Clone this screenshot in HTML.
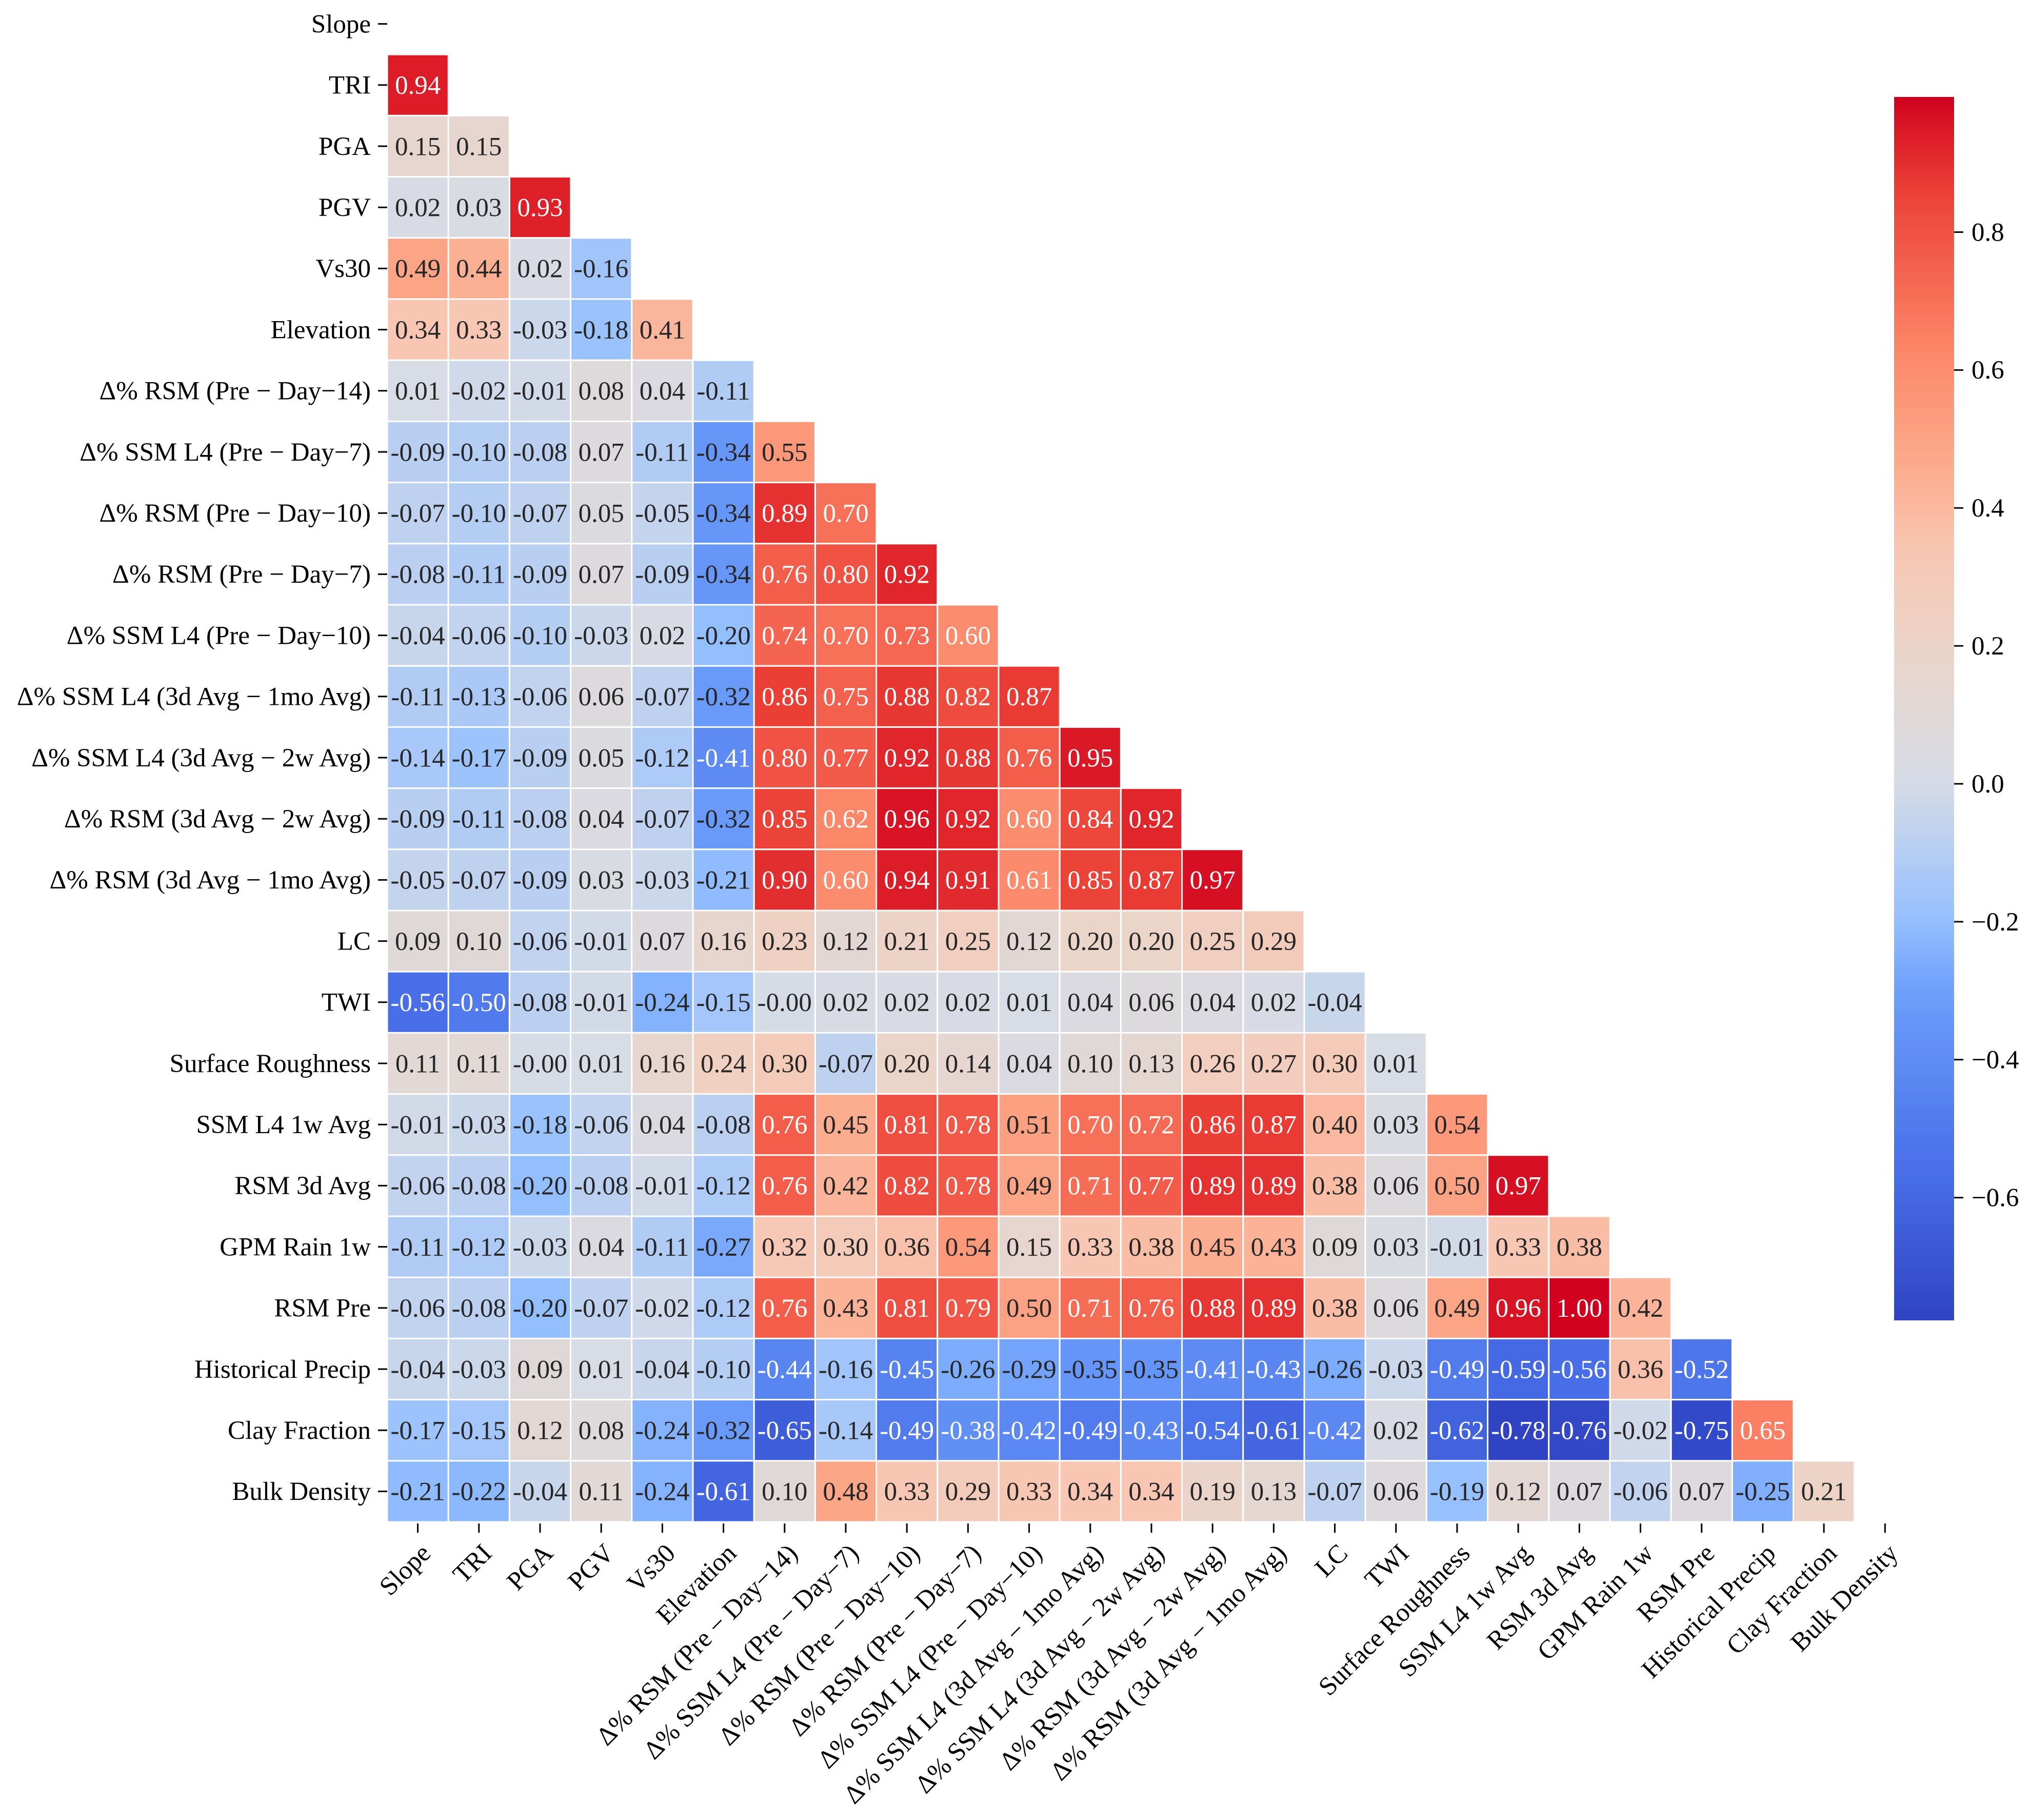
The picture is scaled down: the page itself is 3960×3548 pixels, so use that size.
<!DOCTYPE html>
<html><head><meta charset="utf-8"><style>
html,body{margin:0;padding:0;background:#fff;}
svg{display:block;font-family:"Liberation Serif","DejaVu Serif",serif;}
</style></head><body>
<svg id="chart" xmlns="http://www.w3.org/2000/svg" width="3960" height="3548" viewBox="0 0 3960 3548">
<rect x="0" y="0" width="3960" height="3548" fill="#fff"/>
<defs><linearGradient id="cbgrad" x1="0" y1="1" x2="0" y2="0"></linearGradient></defs>
<g id="cells"></g>
<g id="yaxis"></g>
<g id="xaxis"></g>
<g id="cbar"></g>
</svg>
<script>
const labels = ["Slope","TRI","PGA","PGV","Vs30","Elevation","Δ% RSM (Pre − Day−14)","Δ% SSM L4 (Pre − Day−7)","Δ% RSM (Pre − Day−10)","Δ% RSM (Pre − Day−7)","Δ% SSM L4 (Pre − Day−10)","Δ% SSM L4 (3d Avg − 1mo Avg)","Δ% SSM L4 (3d Avg − 2w Avg)","Δ% RSM (3d Avg − 2w Avg)","Δ% RSM (3d Avg − 1mo Avg)","LC","TWI","Surface Roughness","SSM L4 1w Avg","RSM 3d Avg","GPM Rain 1w","RSM Pre","Historical Precip","Clay Fraction","Bulk Density"];
const rowTRI = [0.94];
const rowPGA = [0.15,0.15];
const rowPGV = [0.02,0.03,0.93];
const rowVs30 = [0.49,0.44,0.02,-0.16];
const rowElev = [0.34,0.33,-0.03,-0.18,0.41];
const rowRSM14 = [0.01,-0.02,-0.01,0.08,0.04,-0.11];
const rowSSM7 = [-0.09,-0.10,-0.08,0.07,-0.11,-0.34,0.55];
const rowRSM10 = [-0.07,-0.10,-0.07,0.05,-0.05,-0.34,0.89,0.70];
const rowRSM7 = [-0.08,-0.11,-0.09,0.07,-0.09,-0.34,0.76,0.80,0.92];
const rowSSM10 = [-0.04,-0.06,-0.10,-0.03,0.02,-0.20,0.74,0.70,0.73,0.60];
const rowSSM3d1mo = [-0.11,-0.13,-0.06,0.06,-0.07,-0.32,0.86,0.75,0.88,0.82,0.87];
const rowSSM3d2w = [-0.14,-0.17,-0.09,0.05,-0.12,-0.41,0.80,0.77,0.92,0.88,0.76,0.95];
const rowRSM3d2w = [-0.09,-0.11,-0.08,0.04,-0.07,-0.32,0.85,0.62,0.96,0.92,0.60,0.84,0.92];
const rowRSM3d1mo = [-0.05,-0.07,-0.09,0.03,-0.03,-0.21,0.90,0.60,0.94,0.91,0.61,0.85,0.87,0.97];
const rowLC = [0.09,0.10,-0.06,-0.01,0.07,0.16,0.23,0.12,0.21,0.25,0.12,0.20,0.20,0.25,0.29];
const rowTWI = [-0.56,-0.50,-0.08,-0.01,-0.24,-0.15,-0.00,0.02,0.02,0.02,0.01,0.04,0.06,0.04,0.02,-0.04];
const rowSR = [0.11,0.11,-0.00,0.01,0.16,0.24,0.30,-0.07,0.20,0.14,0.04,0.10,0.13,0.26,0.27,0.30,0.01];
const rowSSM1w = [-0.01,-0.03,-0.18,-0.06,0.04,-0.08,0.76,0.45,0.81,0.78,0.51,0.70,0.72,0.86,0.87,0.40,0.03,0.54];
const rowRSM3d = [-0.06,-0.08,-0.20,-0.08,-0.01,-0.12,0.76,0.42,0.82,0.78,0.49,0.71,0.77,0.89,0.89,0.38,0.06,0.50,0.97];
const rowGPM = [-0.11,-0.12,-0.03,0.04,-0.11,-0.27,0.32,0.30,0.36,0.54,0.15,0.33,0.38,0.45,0.43,0.09,0.03,-0.01,0.33,0.38];
const rowRSMPre = [-0.06,-0.08,-0.20,-0.07,-0.02,-0.12,0.76,0.43,0.81,0.79,0.50,0.71,0.76,0.88,0.89,0.38,0.06,0.49,0.96,1.00,0.42];
const rowHist = [-0.04,-0.03,0.09,0.01,-0.04,-0.10,-0.44,-0.16,-0.45,-0.26,-0.29,-0.35,-0.35,-0.41,-0.43,-0.26,-0.03,-0.49,-0.59,-0.56,0.36,-0.52];
const rowClay = [-0.17,-0.15,0.12,0.08,-0.24,-0.32,-0.65,-0.14,-0.49,-0.38,-0.42,-0.49,-0.43,-0.54,-0.61,-0.42,0.02,-0.62,-0.78,-0.76,-0.02,-0.75,0.65];
const rowBulk = [-0.21,-0.22,-0.04,0.11,-0.24,-0.61,0.10,0.48,0.33,0.29,0.33,0.34,0.34,0.19,0.13,-0.07,0.06,-0.19,0.12,0.07,-0.06,0.07,-0.25,0.21];
const cbTicks = [-0.6,-0.4,-0.2,0.0,0.2,0.4,0.6,0.8];
const vmin = -0.778, vmax = 0.996;

const rows = [[],rowTRI,rowPGA,rowPGV,rowVs30,rowElev,rowRSM14,rowSSM7,rowRSM10,rowRSM7,rowSSM10,rowSSM3d1mo,rowSSM3d2w,rowRSM3d2w,rowRSM3d1mo,rowLC,rowTWI,rowSR,rowSSM1w,rowRSM3d,rowGPM,rowRSMPre,rowHist,rowClay,rowBulk];

const NS="http://www.w3.org/2000/svg";
const X0=755, Y0=-13, C=119.2, FS=51;
const xPos = j => X0 + j*C;
const yPos = i => Y0 + i*C;
const dstops=[[0,[48,68,195]],[0.12,[72,110,232]],[0.26,[105,155,250]],[0.33,[150,192,255]],[0.44,[214,220,230]],[0.55,[235,212,200]],[0.63,[248,198,178]],[0.70,[252,170,140]],[0.79,[252,135,105]],[0.92,[236,66,55]],[0.98,[216,20,36]],[1,[208,0,30]]];
function cmap(t){t=Math.max(0,Math.min(1,t));for(let i=0;i<dstops.length-1;i++){const [p0,a]=dstops[i],[p1,b]=dstops[i+1];if(t<=p1){const f=(t-p0)/(p1-p0);return [0,1,2].map(k=>Math.round(a[k]+(b[k]-a[k])*f));}}return dstops[dstops.length-1][1];}
const stops=[[59,76,192],[98,130,234],[141,176,254],[184,208,249],[221,221,221],[245,196,173],[244,154,123],[222,96,77],[180,4,38]];
function cmapTrue(t){t=Math.max(0,Math.min(1,t));const p=t*8,i=Math.min(7,Math.floor(p)),f=p-i;const a=stops[i],b=stops[i+1];return [0,1,2].map(k=>Math.round(a[k]+(b[k]-a[k])*f));}
const norm = v => (v-vmin)/(vmax-vmin);
function lum(c){const l=c.map(x=>{x/=255;return x<=0.03928?x/12.92:Math.pow((x+0.055)/1.055,2.4);});return 0.2126*l[0]+0.7152*l[1]+0.0722*l[2];}
function mk(tag,attrs,parent){const e=document.createElementNS(NS,tag);for(const k in attrs)e.setAttribute(k,attrs[k]);parent.appendChild(e);return e;}
const fmt = v => (Object.is(v,-0) ? "-0.00" : v.toFixed(2));

const gCells=document.getElementById('cells');
rows.forEach((row,i)=>{
  row.forEach((v,j)=>{
    const c=cmap(norm(v));
    const r=mk('rect',{x:xPos(j),y:yPos(i),width:C,height:C,fill:`rgb(${c})`,stroke:'#fff','stroke-width':3},gCells);
    
    
    const t=mk('text',{x:xPos(j)+C/2,y:yPos(i)+C/2+FS*0.34,'text-anchor':'middle','font-size':FS,fill:lum(cmapTrue(norm(v)))>0.408?'#262626':'#fff'},gCells);
    t.textContent=fmt(v);
    
    
  });
});
const gy=document.getElementById('yaxis');
labels.forEach((lb,i)=>{
  const cy=yPos(i)+C/2;
  const tk=mk('line',{x1:X0-18,x2:X0,y1:cy,y2:cy,stroke:'#000','stroke-width':3},gy);
  
  
  const t=mk('text',{x:X0-32,y:cy+FS*0.33,'text-anchor':'end','font-size':FS,fill:'#000'},gy);
  t.textContent=lb;
  
  
});
const gx=document.getElementById('xaxis');
const yb=yPos(25);
labels.forEach((lb,j)=>{
  const cx=xPos(j)+C/2;
  const tk=mk('line',{x1:cx,x2:cx,y1:yb+3,y2:yb+21,stroke:'#000','stroke-width':3},gx);
  
  
  const ax=cx+2, ay=yb+38;
  const t=mk('text',{x:ax,y:ay+FS*0.72,'text-anchor':'end','font-size':FS,fill:'#000',transform:`rotate(-45 ${ax} ${ay})`},gx);
  t.textContent=lb;
  
  
});
const CB={x:3693,w:117,top:189,bot:2574};
const grad=document.getElementById('cbgrad');
for(let k=0;k<=60;k++){const c=cmap(k/60);mk('stop',{offset:(k/60),'stop-color':`rgb(${c})`},grad);}
const gc=document.getElementById('cbar');
const cbr=mk('rect',{x:CB.x,y:CB.top,width:CB.w,height:CB.bot-CB.top,fill:'url(#cbgrad)'},gc);


const cbY = v => CB.bot - (v-vmin)/(vmax-vmin)*(CB.bot-CB.top);
cbTicks.forEach(v=>{
  const y=cbY(v);
  const tk=mk('line',{x1:CB.x+CB.w,x2:CB.x+CB.w+18,y1:y,y2:y,stroke:'#000','stroke-width':3},gc);
  
  
  const t=mk('text',{x:CB.x+CB.w+34,y:y+FS*0.33,'font-size':FS,fill:'#000'},gc);
  t.textContent=(v<0?'−':'')+Math.abs(v).toFixed(1);
  
  
});
</script>
</body></html>
